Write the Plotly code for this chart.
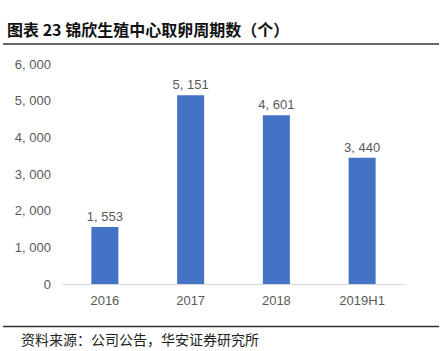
import plotly.graph_objects as go

categories = ["2016", "2017", "2018", "2019H1"]
values = [1553, 5151, 4601, 3440]
tick_vals = [0, 1000, 2000, 3000, 4000, 5000, 6000]
tick_text = ["0", "1, 000", "2, 000", "3, 000", "4, 000", "5, 000", "6, 000"]
bar_labels = ["1, 553", "5, 151", "4, 601", "3, 440"]
title_text = "图表 23 锦欣生殖中心取卵周期数（个）"
source_text = "资料来源：公司公告，华安证券研究所"

W, H = 441, 351
L, R, T, B = 62, 36, 64, 66.5
pw = W - L - R
ph = H - T - B


def px_to_paper_x(px):
    return (px - L) / pw


def px_to_paper_y(py):
    return (H - B - py) / ph


fig = go.Figure(go.Bar(
    x=categories, y=values, marker_color="#4472C4", marker_line_width=0,
    text=bar_labels, textposition="outside", cliponaxis=False, constraintext="none",
    textfont=dict(family="Liberation Sans, Arial", size=13, color="#595959"),
))

fig.update_layout(
    width=W, height=H, margin=dict(l=L, r=R, t=T, b=B),
    paper_bgcolor="white", plot_bgcolor="white",
    bargap=0.685, showlegend=False,
    font=dict(family="Liberation Sans, Arial", size=13, color="#595959"),
    xaxis=dict(showline=True, linecolor="#D9D9D9", linewidth=1, ticks="",
               ticklabelstandoff=4,
               tickfont=dict(size=13, color="#595959"), showgrid=False),
    yaxis=dict(range=[0, 6000], tickvals=tick_vals, ticktext=tick_text,
               showgrid=False, zeroline=False, showline=False, ticks="",
               ticklabelstandoff=10,
               tickfont=dict(size=13, color="#595959")),
)

fig.add_shape(type="line", xref="paper", yref="paper", x0=px_to_paper_x(3), x1=px_to_paper_x(439),
              y0=px_to_paper_y(44), y1=px_to_paper_y(44), line=dict(color="#333333", width=1.5))
fig.add_shape(type="line", xref="paper", yref="paper", x0=px_to_paper_x(3), x1=px_to_paper_x(439),
              y0=px_to_paper_y(327), y1=px_to_paper_y(327), line=dict(color="#333333", width=1.5))
fig.add_annotation(text="<b>" + title_text + "</b>", x=px_to_paper_x(5), y=px_to_paper_y(29),
                   xref="paper", yref="paper", xanchor="left", yanchor="middle", showarrow=False,
                   font=dict(family="Noto Sans CJK SC", size=16, color="#111111"))
fig.add_annotation(text=source_text, x=px_to_paper_x(19), y=px_to_paper_y(340),
                   xref="paper", yref="paper", xanchor="left", yanchor="middle", showarrow=False,
                   font=dict(family="Noto Sans CJK SC", size=14, color="#222222"))

fig.write_html("out.html")
